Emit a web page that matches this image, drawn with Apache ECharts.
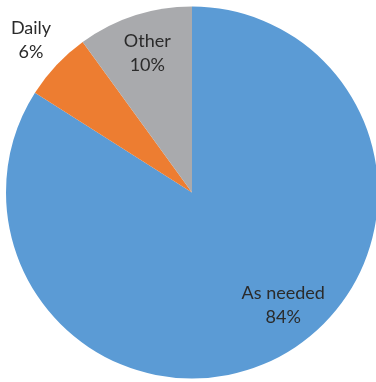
<!DOCTYPE html>
<html>
<head>
<meta charset="utf-8">
<script src="https://cdn.jsdelivr.net/npm/echarts@6/dist/echarts.min.js"></script>
<style>
  html, body { margin: 0; padding: 0; background: #fff; }
  #main { width: 376px; height: 382px; }
</style>
</head>
<body>
<div id="main"></div>
<script>
var categories = ['As needed', 'Daily', 'Other'];
var values = [84, 6, 10];
var colors = ['#5B9BD5', '#ED7D31', '#A9AAAD'];

// label nudges from the inside position, per slice
var labelShift = [[45, 29], [-91, -87], [-15, -48]];

var myChart = echarts.init(document.getElementById('main'));

var pieData = categories.map(function(name, i) {
  return { name: name, value: values[i], itemStyle: { color: colors[i] } };
});

var option = {
  animation: false,
  series: [
    {
      type: 'pie',
      center: [192, 192.5],
      radius: 186,
      startAngle: 90,
      clockwise: true,
      label: {
        show: true,
        position: 'inside',
        formatter: '{b}\n{d}%',
        color: '#2b2b2b',
        fontFamily: 'Lato',
        fontSize: 18,
        lineHeight: 24
      },
      labelLine: { show: false },
      labelLayout: function(params) {
        var s = labelShift[params.dataIndex];
        return { dx: s[0], dy: s[1] };
      },
      itemStyle: { borderWidth: 0 },
      data: pieData
    }
  ]
};

myChart.setOption(option);
</script>
</body>
</html>
